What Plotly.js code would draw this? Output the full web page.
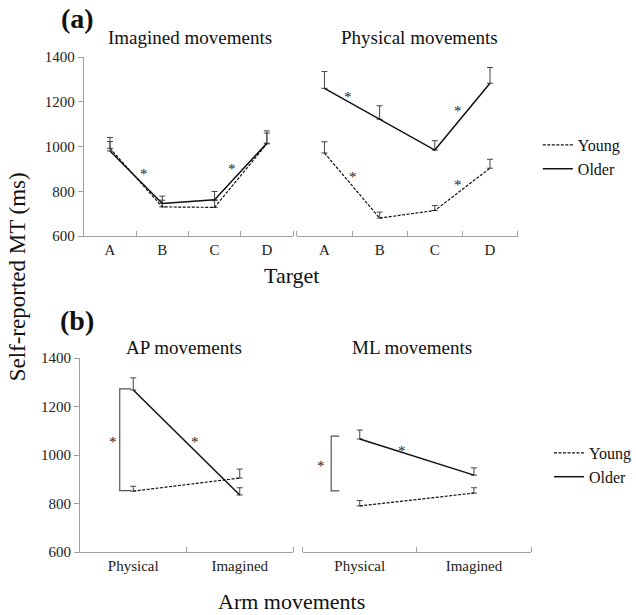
<!DOCTYPE html>
<html>
<head>
<meta charset="utf-8">
<script src="https://cdn.plot.ly/plotly-3.0.1.min.js"></script>
<style>html,body{margin:0;padding:0;background:#fff;}#chart{width:636px;height:615px;}</style>
</head>
<body>
<div id="chart"></div>
<script>
// ---- data ----
const targets = ['A', 'B', 'C', 'D'];
const armConds = ['Physical', 'Imagined'];

const imagYoung = [992, 730, 728, 1012];
const imagYoungErr = [30, 30, 30, 48];
const imagOlder = [980, 745, 762, 1015];
const imagOlderErr = [60, 33, 37, 55];

const physYoung = [971, 680, 714, 903];
const physYoungErr = [50, 27, 22, 40];
const physOlder = [1260, 1122, 984, 1283];
const physOlderErr = [75, 60, 42, 70];

const apYoung = [851, 905];
const apYoungErr = [20, 37];
const apOlder = [1268, 835];
const apOlderErr = [50, 30];

const mlYoung = [790, 843];
const mlYoungErr = [22, 22];
const mlOlder = [1066, 917];
const mlOlderErr = [37, 30];

// significance brackets: [xLeft, xRight, yTop, yBottom]
const apBracket = [-0.127, -0.02, 1273, 853];
const mlBracket = [-0.25, -0.18, 1078, 852];

// asterisks: [panel, x, y]
const stars = [
  ['', 0.643, 895], ['', 2.34, 917],
  ['2', 0.426, 1238], ['2', 2.417, 1176], ['2', 0.513, 881], ['2', 2.417, 846],
  ['3', -0.192, 1070], ['3', 0.577, 1070],
  ['4', -0.34, 971], ['4', 0.369, 1033]
];

const yTicks = [600, 800, 1000, 1200, 1400];

// ---- build ----
const FONT = 'Liberation Serif';
const AXC = '#a0a0a0';
const W = 636, H = 615;
const px = v => v / W;
const py = v => 1 - v / H;

function idx(arr) { return arr.map((_, i) => i); }

function series(cats, vals, errs, name, dashed, xa, ya, legend, show) {
  return {
    type: 'scatter', mode: 'lines', name: name,
    x: idx(cats), y: vals, xaxis: xa, yaxis: ya,
    legend: legend, legendgroup: legend + name, showlegend: show,
    line: {color: '#111', width: dashed ? 1.2 : 1.5, dash: dashed ? '3px,1.5px' : 'solid'},
    error_y: {type: 'data', symmetric: false, array: errs, arrayminus: errs.map(() => 0),
      color: '#444', thickness: 1, width: 3},
    hoverinfo: 'skip'
  };
}

function bracket(b, xa, ya) {
  return {
    type: 'scatter', mode: 'lines', showlegend: false, xaxis: xa, yaxis: ya,
    x: [b[1], b[0], b[0], b[1]], y: [b[2], b[2], b[3], b[3]],
    line: {color: '#555', width: 1.2}, hoverinfo: 'skip'
  };
}

const traces = [
  series(targets, imagYoung, imagYoungErr, 'Young', true, 'x', 'y', 'legend', true),
  series(targets, imagOlder, imagOlderErr, 'Older', false, 'x', 'y', 'legend', true),
  series(targets, physYoung, physYoungErr, 'Young', true, 'x2', 'y2', 'legend', false),
  series(targets, physOlder, physOlderErr, 'Older', false, 'x2', 'y2', 'legend', false),
  series(armConds, apYoung, apYoungErr, 'Young', true, 'x3', 'y3', 'legend2', true),
  series(armConds, apOlder, apOlderErr, 'Older', false, 'x3', 'y3', 'legend2', true),
  series(armConds, mlYoung, mlYoungErr, 'Young', true, 'x4', 'y4', 'legend2', false),
  series(armConds, mlOlder, mlOlderErr, 'Older', false, 'x4', 'y4', 'legend2', false),
  bracket(apBracket, 'x3', 'y3'),
  bracket(mlBracket, 'x4', 'y4')
];

function xAxis(cats, domain, anchor) {
  const n = cats.length;
  const bounds = [];
  for (let i = 0; i <= n; i++) bounds.push(i - 0.5);
  return {
    domain: domain, anchor: anchor, range: [-0.5, n - 0.5], fixedrange: true,
    showline: true, linecolor: AXC, linewidth: 1, showgrid: false, zeroline: false,
    tickmode: 'array', tickvals: idx(cats), ticktext: cats, ticks: '', ticklen: 0,
    tickfont: {family: FONT, size: 15, color: '#222'},
    minor: {tickmode: 'array', tickvals: bounds, ticks: 'inside', ticklen: 5, tickwidth: 1, tickcolor: AXC, showgrid: false}
  };
}
function yAxis(domain, anchor, visible) {
  return {
    domain: domain, anchor: anchor, range: [600, 1400], fixedrange: true,
    visible: visible, showline: true, linecolor: AXC, linewidth: 1, showgrid: false, zeroline: false,
    tickmode: 'array', tickvals: yTicks, ticks: 'outside', ticklen: 5, tickcolor: AXC,
    tickfont: {family: FONT, size: 15, color: '#222'}
  };
}

const yTop = [py(236), py(57)];
const yBot = [py(552), py(358)];

const annotations = [];
function txt(text, x, y, size, opts) {
  annotations.push(Object.assign({
    text: text, x: px(x), y: py(y), xref: 'paper', yref: 'paper',
    xanchor: 'center', yanchor: 'middle', showarrow: false,
    font: {family: FONT, size: size, color: '#111'}
  }, opts || {}));
}
txt('<b>(a)</b>', 80, 19, 28);
txt('<b>(b)</b>', 80, 320, 28);
txt('Imagined movements', 197, 38, 19);
txt('Physical movements', 435, 38, 19);
txt('AP movements', 191, 347, 19);
txt('ML movements', 427, 348, 19);
txt('Target', 302, 275, 22);
txt('Arm movements', 302, 601, 22);
txt('Self-reported MT (ms)', 18, 277, 23, {textangle: -90});

stars.forEach(s => {
  annotations.push({
    text: '*', x: s[1], y: s[2], xref: 'x' + s[0], yref: 'y' + s[0],
    xanchor: 'center', yanchor: 'middle', showarrow: false, yshift: -4,
    font: {family: FONT, size: 15, color: '#222'}
  });
});

const legendCommon = {
  font: {family: FONT, size: 16, color: '#111'}, bgcolor: 'rgba(0,0,0,0)',
  itemwidth: 30, tracegroupgap: 0, traceorder: 'normal', xanchor: 'left', yanchor: 'top'
};

const layout = {
  width: W, height: H, margin: {l: 0, r: 0, t: 0, b: 0},
  paper_bgcolor: '#fff', plot_bgcolor: '#fff',
  font: {family: FONT, color: '#111'},
  xaxis: xAxis(targets, [px(87), px(304)], 'y'),
  yaxis: yAxis(yTop, 'x', true),
  xaxis2: xAxis(targets, [px(308), px(537)], 'y2'),
  yaxis2: yAxis(yTop, 'x2', false),
  xaxis3: xAxis(armConds, [px(83), px(304)], 'y3'),
  yaxis3: yAxis(yBot, 'x3', true),
  xaxis4: xAxis(armConds, [px(314), px(551)], 'y4'),
  yaxis4: yAxis(yBot, 'x4', false),
  legend: Object.assign({x: px(558), y: py(128)}, legendCommon),
  legend2: Object.assign({x: px(570), y: py(436)}, legendCommon),
  annotations: annotations,
  showlegend: true
};

Plotly.newPlot('chart', traces, layout, {displayModeBar: false, staticPlot: true});
</script>
</body>
</html>
